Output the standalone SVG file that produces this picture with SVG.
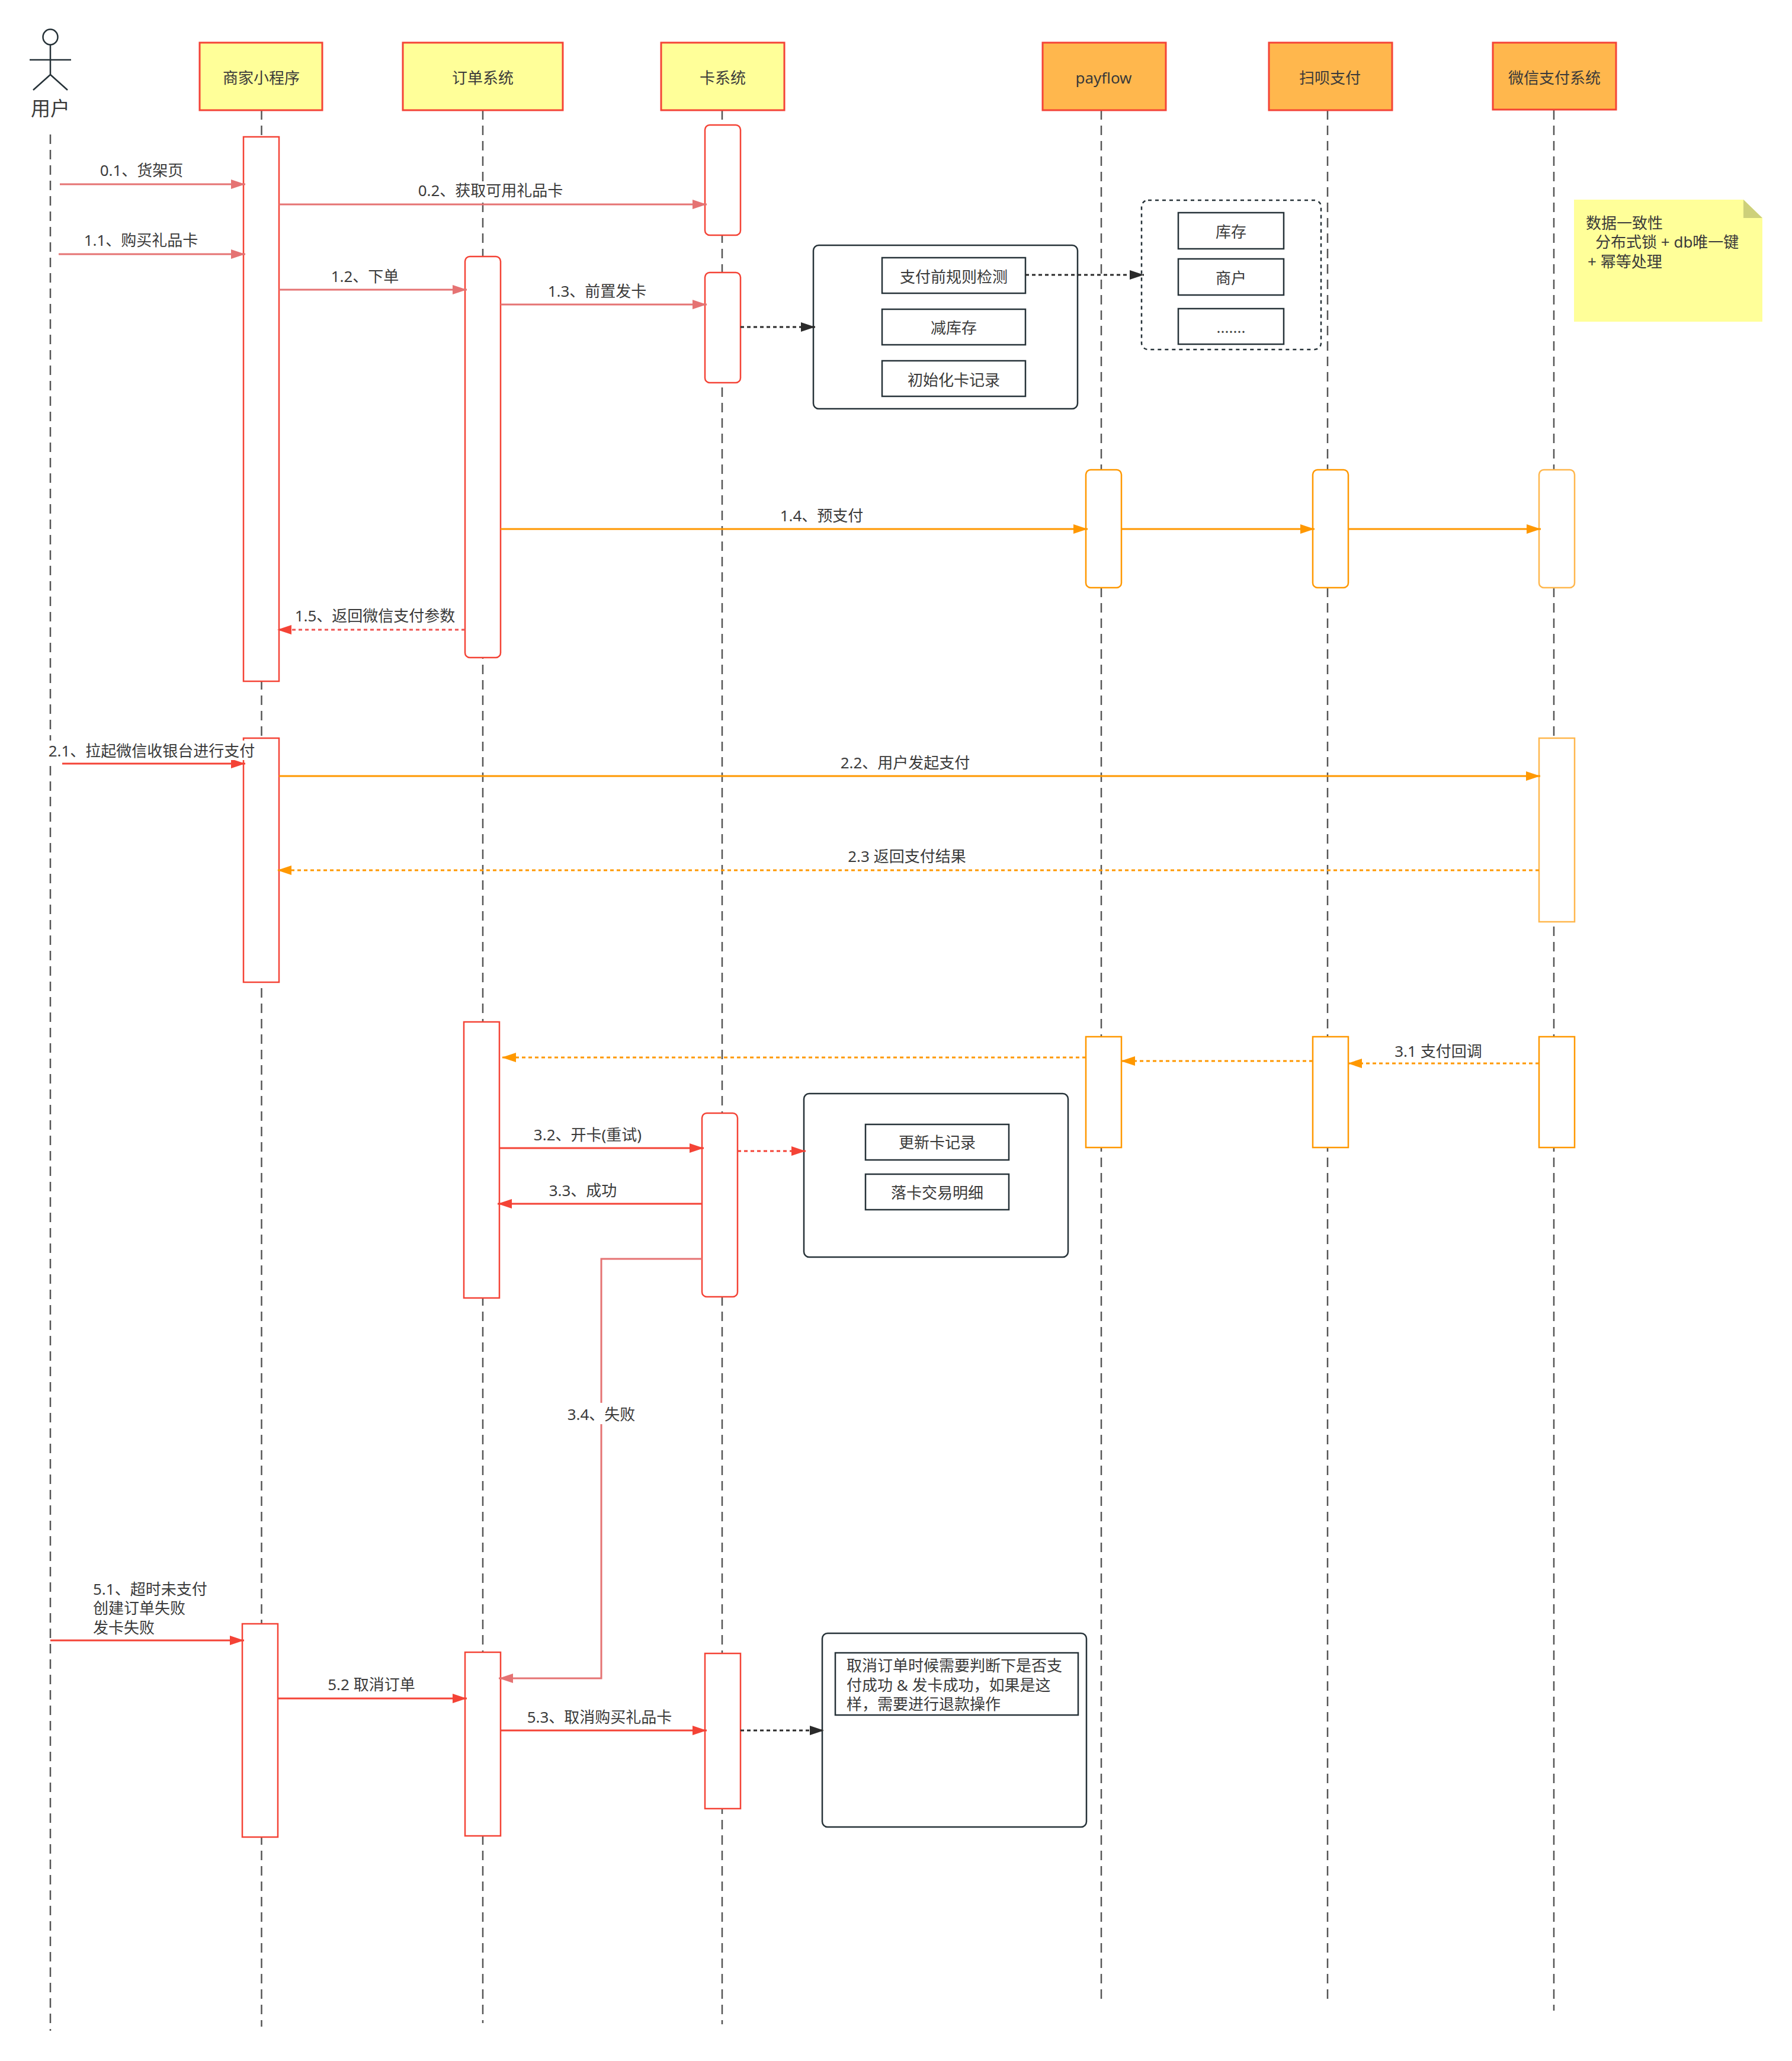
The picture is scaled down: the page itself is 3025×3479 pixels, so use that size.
<svg xmlns="http://www.w3.org/2000/svg" width="3025" height="3479" viewBox="0 0 3025 3479">
<defs>
<style>
text{font-family:"Noto Sans","Noto Sans CJK SC",sans-serif;font-size:26px;fill:#3a3a3a;text-anchor:middle;dominant-baseline:central}
.l{text-anchor:start}
.bg{fill:#fff}
.life{stroke:#555;stroke-width:2.5;stroke-dasharray:16 10;fill:none}
.hy{fill:#ffff99;stroke:#f44336;stroke-width:3}
.ho{fill:#ffb74d;stroke:#f44336;stroke-width:3}
.ar{fill:#fff;stroke:#f44336;stroke-width:2.5}
.ao{fill:#fff;stroke:#ff9800;stroke-width:2.5}
.box{fill:#fff;stroke:#263238;stroke-width:2.5}
.c{fill:none;stroke-width:3}
.pk{stroke:#e57373}.rd{stroke:#f44336}.or{stroke:#ff9800}.dk{stroke:#2b2b2b}
.da{stroke-dasharray:6 5}
.ln{fill:none;stroke:#263238;stroke-width:2.5}
</style>
<marker id="mp" markerUnits="userSpaceOnUse" markerWidth="24" markerHeight="16" refX="24" refY="8" orient="auto"><path d="M0,0L24,8L0,16z" fill="#e57373"/></marker>
<marker id="mr" markerUnits="userSpaceOnUse" markerWidth="24" markerHeight="16" refX="24" refY="8" orient="auto"><path d="M0,0L24,8L0,16z" fill="#f44336"/></marker>
<marker id="mo" markerUnits="userSpaceOnUse" markerWidth="24" markerHeight="16" refX="24" refY="8" orient="auto"><path d="M0,0L24,8L0,16z" fill="#ff9800"/></marker>
<marker id="md" markerUnits="userSpaceOnUse" markerWidth="24" markerHeight="16" refX="24" refY="8" orient="auto"><path d="M0,0L24,8L0,16z" fill="#2b2b2b"/></marker>
</defs>
<rect width="3025" height="3479" fill="#fff"/>
<g id="lifelines">
<path class="life" d="M85,227V3428"/>
<path class="life" d="M441.500,186V3421"/>
<path class="life" d="M815,186V3415"/>
<path class="life" d="M1219,186V3417"/>
<path class="life" d="M1859,186V3381"/>
<path class="life" d="M2241,186V3381"/>
<path class="life" d="M2623,186V3394"/>
</g>
<g id="actor-user">
<ellipse cx="85" cy="62.500" rx="12.500" ry="13" fill="#fff" stroke="#263238" stroke-width="2.500"/>
<path class="ln" d="M85,75V126M50,101H120M56,152L85,126L114,152"/>
<text x="85" y="182" style="font-size:33px">用户</text>
</g>
<g id="node-merchant"><rect class="hy" x="337" y="72" width="207" height="114"/><text x="441" y="131">商家小程序</text></g>
<g id="node-order"><rect class="hy" x="680" y="72" width="270" height="114"/><text x="815" y="131">订单系统</text></g>
<g id="node-card"><rect class="hy" x="1116" y="72" width="208" height="114"/><text x="1220" y="131">卡系统</text></g>
<g id="node-payflow"><rect class="ho" x="1760" y="72" width="208" height="114"/><text x="1863" y="131">payflow</text></g>
<g id="node-scan"><rect class="ho" x="2142" y="72" width="208" height="114"/><text x="2245" y="131">扫呗支付</text></g>
<g id="node-wechat"><rect class="ho" x="2520" y="72" width="208" height="113"/><text x="2624" y="131">微信支付系统</text></g>
<g id="act-merchant-1"><rect class="ar" x="411" y="231" width="60" height="919"/></g>
<g id="act-card-1"><rect class="ar" x="1190" y="211" width="60" height="186" rx="8"/></g>
<g id="act-order-1"><rect class="ar" x="785" y="433" width="60" height="677" rx="8"/></g>
<g id="act-card-2"><rect class="ar" x="1190" y="460" width="60" height="186" rx="8"/></g>
<g id="act-pay-1"><rect class="ao" x="1833" y="793" width="60" height="199" rx="8"/></g>
<g id="act-scan-1"><rect class="ao" x="2216" y="793" width="60" height="199" rx="8"/></g>
<g id="act-wx-1"><rect class="ao" x="2598" y="793" width="60" height="199" rx="8" style="stroke:#ffb74d"/></g>
<g id="act-merchant-2"><rect class="ar" x="411" y="1246" width="60" height="412"/></g>
<g id="act-wx-2"><rect class="ao" x="2598" y="1246" width="60" height="310" style="stroke:#ffb74d"/></g>
<g id="act-order-2"><rect class="ar" x="783" y="1725" width="60" height="466"/></g>
<g id="act-pay-2"><rect class="ao" x="1833" y="1750" width="60" height="187"/></g>
<g id="act-scan-2"><rect class="ao" x="2216" y="1750" width="60" height="187"/></g>
<g id="act-wx-3"><rect class="ao" x="2598" y="1750" width="60" height="187"/></g>
<g id="act-card-3"><rect class="ar" x="1185" y="1879" width="60" height="310" rx="8"/></g>
<g id="act-merchant-3"><rect class="ar" x="409" y="2741" width="60" height="360"/></g>
<g id="act-order-3"><rect class="ar" x="785" y="2789" width="60" height="310"/></g>
<g id="act-card-4"><rect class="ar" x="1190" y="2791" width="60" height="262"/></g>
<g id="box-precheck">
<rect class="box" x="1373" y="414" width="446" height="276" rx="9"/>
<rect class="box" x="1489" y="435" width="242" height="60"/><text x="1610" y="467">支付前规则检测</text>
<rect class="box" x="1489" y="522" width="242" height="60"/><text x="1610" y="553">减库存</text>
<rect class="box" x="1489" y="609" width="242" height="60"/><text x="1610" y="641">初始化卡记录</text>
</g>
<g id="box-rules">
<rect x="1927" y="338" width="303" height="252" rx="11" fill="#fff" stroke="#263238" stroke-width="2.500" stroke-dasharray="6 6"/>
<rect class="box" x="1989" y="359" width="178" height="61"/><text x="2078" y="391">库存</text>
<rect class="box" x="1989" y="437" width="178" height="61"/><text x="2078" y="469">商户</text>
<rect class="box" x="1989" y="521" width="178" height="60"/><text x="2078" y="552">.......</text>
</g>
<g id="note-consistency">
<path d="M2657,337H2943L2975,368V543H2657z" fill="#ffff99"/>
<path d="M2943,337L2975,368H2943z" fill="#cdd07a"/>
<text class="l" x="2677" y="376">数据一致性</text>
<text class="l" x="2693" y="408">分布式锁 + db唯一键</text>
<text class="l" x="2680" y="441">+ 幂等处理</text>
</g>
<g id="box-update">
<rect class="box" x="1357" y="1846" width="446" height="276" rx="9"/>
<rect class="box" x="1461" y="1898" width="242" height="60"/><text x="1582" y="1928">更新卡记录</text>
<rect class="box" x="1461" y="1982" width="242" height="60"/><text x="1582" y="2013">落卡交易明细</text>
</g>
<g id="box-cancel">
<rect class="box" x="1388" y="2757" width="446" height="327" rx="9"/>
<rect class="box" x="1410" y="2790" width="410" height="105"/>
<text class="l" x="1429" y="2811">取消订单时候需要判断下是否支</text>
<text class="l" x="1429" y="2844">付成功 &amp; 发卡成功，如果是这</text>
<text class="l" x="1429" y="2876">样，需要进行退款操作</text>
</g>
<g id="connectors">
<path class="c pk" d="M101,311H414" marker-end="url(#mp)"/>
<path class="c pk" d="M471,345H1193" marker-end="url(#mp)"/>
<path class="c pk" d="M99,429H414" marker-end="url(#mp)"/>
<path class="c pk" d="M471,489H788" marker-end="url(#mp)"/>
<path class="c pk" d="M845,514H1193" marker-end="url(#mp)"/>
<path class="c dk da" d="M1250,552H1376" marker-end="url(#md)"/>
<path class="c dk da" d="M1731,464H1931" marker-end="url(#md)"/>
<path class="c or" d="M845,893H1836" marker-end="url(#mo)"/>
<path class="c or" d="M1893,893H2219" marker-end="url(#mo)"/>
<path class="c or" d="M2276,893H2601" marker-end="url(#mo)"/>
<path class="c rd da" d="M785,1063H468" marker-end="url(#mr)" style="stroke:#ef5350"/>
<path class="c rd" d="M105,1289H414" marker-end="url(#mr)"/>
<path class="c or" d="M471,1310H2600" marker-end="url(#mo)"/>
<path class="c or da" d="M2598,1469H468" marker-end="url(#mo)"/>
<path class="c or da" d="M2598,1795H2275" marker-end="url(#mo)"/>
<path class="c or da" d="M2216,1791H1892" marker-end="url(#mo)"/>
<path class="c or da" d="M1833,1785H847" marker-end="url(#mo)"/>
<path class="c rd" d="M843,1938H1188" marker-end="url(#mr)"/>
<path class="c rd" d="M1185,2032H840" marker-end="url(#mr)"/>
<path class="c rd da" d="M1245,1943H1360" marker-end="url(#mr)"/>
<path class="c pk" d="M1185,2125H1015V2833H842" marker-end="url(#mp)"/>
<path class="c rd" d="M85,2769H412" marker-end="url(#mr)"/>
<path class="c rd" d="M469,2867H788" marker-end="url(#mr)"/>
<path class="c rd" d="M845,2921H1193" marker-end="url(#mr)"/>
<path class="c dk da" d="M1250,2921H1391" marker-end="url(#md)"/>
</g>
<g id="labels">
<text x="239" y="287">0.1、货架页</text>
<rect class="bg" x="706" y="307" width="244" height="31"/>
<text x="828" y="321">0.2、获取可用礼品卡</text>
<text x="238" y="405">1.1、购买礼品卡</text>
<text x="616" y="466">1.2、下单</text>
<text x="1008" y="491">1.3、前置发卡</text>
<text x="1387" y="870">1.4、预支付</text>
<text x="633" y="1039">1.5、返回微信支付参数</text>
<rect class="bg" x="83" y="1250" width="347" height="33"/>
<text x="256" y="1267">2.1、拉起微信收银台进行支付</text>
<text x="1528" y="1287">2.2、用户发起支付</text>
<text x="1531" y="1445">2.3 返回支付结果</text>
<text x="2428" y="1774">3.1 支付回调</text>
<text x="992" y="1915">3.2、开卡(重试)</text>
<text x="984" y="2009">3.3、成功</text>
<rect class="bg" x="953" y="2368" width="122" height="36"/>
<text x="1015" y="2387">3.4、失败</text>
<text class="l" x="157" y="2682">5.1、超时未支付</text>
<text class="l" x="157" y="2714">创建订单失败</text>
<text class="l" x="157" y="2747">发卡失败</text>
<text x="627" y="2843">5.2 取消订单</text>
<text x="1012" y="2898">5.3、取消购买礼品卡</text>
</g>
</svg>
